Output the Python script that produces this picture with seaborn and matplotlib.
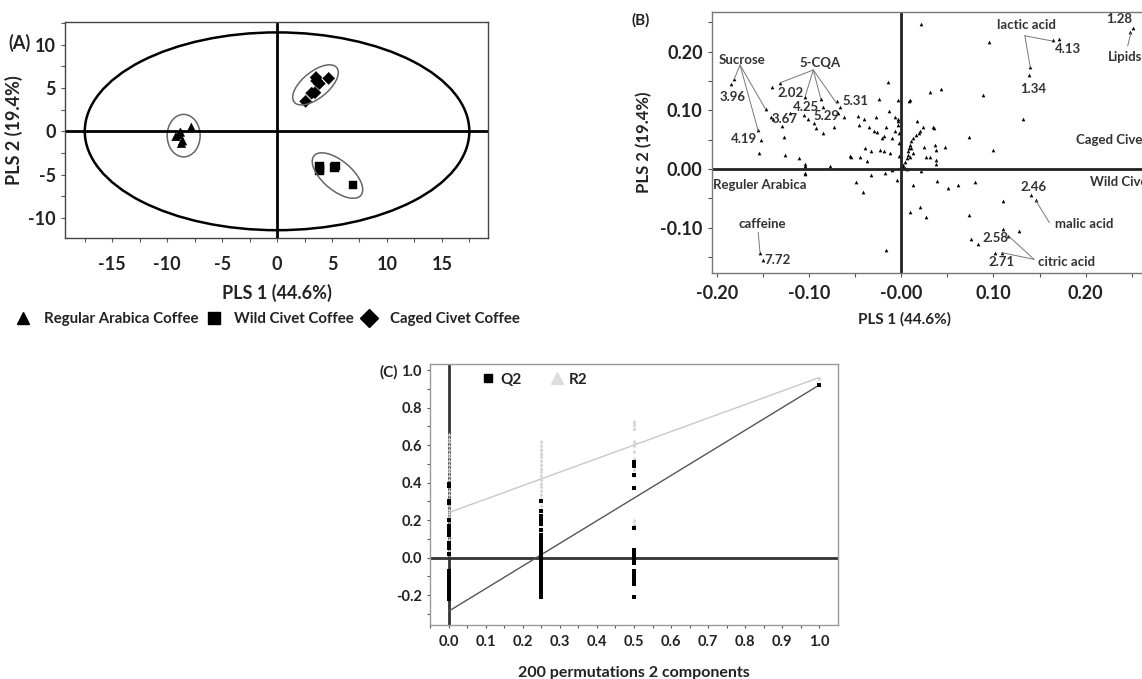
"""
PLS-DA score plot (A), loading plot (B) and permutation test (C)
for regular arabica vs. civet coffee, saved to out.png.
"""

import numpy as np
import pandas as pd
import seaborn as sns
import matplotlib.pyplot as plt
from matplotlib.patches import Ellipse
from matplotlib.ticker import MultipleLocator

output_file = "out.png"

# ---------------- (A) score plot ----------------
arabica_x = [-8.8, -7.8, -9.2, -8.7, -8.6, -8.9]
arabica_y = [-0.1, 0.45, -0.6, -1.4, -1.1, -0.4]
wild_x = [3.85, 3.85, 5.3, 5.25, 6.9, 3.9]
wild_y = [-4.0, -4.6, -4.0, -4.2, -6.2, -4.3]
caged_x = [2.6, 3.15, 3.45, 3.55, 3.85, 4.7, 3.6]
caged_y = [3.45, 4.4, 4.45, 6.2, 5.5, 6.1, 5.8]
group_names = ["Regular Arabica Coffee", "Wild Civet Coffee", "Caged Civet Coffee"]

# Hotelling T2 ellipse and group ellipses: centre x, centre y, width, height, angle
hotelling = (0.0, 0.0, 35.0, 22.8, 0)
group_ellipses = [(-8.5, -0.5, 3.0, 4.9, 0),
                  (3.5, 5.35, 5.6, 2.7, 50),
                  (5.5, -5.1, 6.3, 3.0, -51)]

# ---------------- (B) loading plot ----------------
load_x = [-0.184, -0.181, -0.147, -0.141, -0.139, -0.155, -0.152, -0.154, -0.140, -0.131,
          -0.129, -0.127, -0.126, -0.120, -0.111, -0.104, -0.105, -0.101, -0.104, -0.104,
          -0.104, -0.087, -0.085, -0.095, -0.092, -0.085, -0.077, -0.073, -0.070, -0.066,
          -0.068, -0.062, -0.055, -0.054, -0.047, -0.046, -0.040, -0.045, -0.039, -0.037,
          -0.035, -0.033, -0.030, -0.027, -0.026, -0.024, -0.023, -0.021, -0.019, -0.019,
          -0.017, -0.014, -0.013, -0.012, -0.010, -0.007, -0.007, -0.004, -0.003, -0.003,
          -0.003, -0.002, -0.002, -0.002, 0.000, -0.104, -0.049, -0.041, -0.033, -0.018,
          -0.010, -0.005, -0.017, -0.153, -0.150,
          0.021, 0.095, 0.165, 0.171, 0.140, 0.139, 0.251, 0.248, 0.089, 0.031,
          0.043, 0.008, 0.010, 0.132, 0.073, 0.100, 0.017, 0.024, 0.035, 0.036,
          0.020, 0.019, 0.016, 0.013, 0.011, 0.0096, 0.0088, 0.0077, 0.0070, 0.0059,
          0.0041, 0.0023, 0.011, 0.013, 0.0096, 0.025, 0.027, 0.031, 0.037, 0.038,
          0.038, 0.038, 0.047, 0.004, 0.006, 0.002,
          0.013, 0.021, 0.010, 0.020, 0.027, 0.039, 0.051, 0.062, 0.080, 0.074,
          0.110, 0.141, 0.146, 0.110, 0.128, 0.076, 0.083, 0.116, 0.102, 0.109]
load_y = [0.145, 0.154, 0.102, 0.088, 0.085, 0.066, 0.049, 0.027, 0.139, 0.147,
          0.073, 0.055, 0.023, 0.096, 0.018, 0.123, 0.092, 0.085, 0.009, 0.005,
          -0.007, 0.119, 0.106, 0.078, 0.069, 0.061, 0.005, 0.072, 0.115, 0.106,
          0.095, 0.089, 0.022, 0.020, 0.090, 0.075, 0.085, 0.021, 0.035, 0.014,
          0.072, 0.030, 0.065, 0.088, 0.063, 0.119, 0.032, 0.053, 0.056, 0.031,
          0.072, 0.148, 0.099, 0.028, 0.053, 0.065, 0.089, 0.117, 0.086, 0.081,
          0.075, 0.061, 0.044, 0.022, 0.004, -0.009, -0.023, -0.039, -0.011, -0.006,
          -0.002, -0.019, -0.138, -0.143, -0.155,
          0.247, 0.217, 0.219, 0.221, 0.174, 0.160, 0.241, 0.233, 0.126, 0.131,
          0.136, 0.115, 0.118, 0.086, 0.054, 0.032, 0.081, 0.072, 0.072, 0.070,
          0.065, 0.061, 0.058, 0.052, 0.047, 0.041, 0.035, 0.030, 0.024, 0.018,
          0.012, 0.007, 0.035, 0.027, 0.021, 0.038, 0.021, 0.021, 0.041, 0.032,
          0.015, 0.009, 0.038, 0.002, 0.000, 0.003,
          -0.027, -0.003, -0.074, -0.064, -0.081, -0.020, -0.033, -0.027, -0.023, -0.078,
          -0.054, -0.044, -0.053, -0.103, -0.106, -0.119, -0.128, -0.114, -0.143, -0.143]

# annotation text: label, x, y, horizontal alignment
load_labels = [("Sucrose", -0.173, 0.186, "center"), ("3.96", -0.183, 0.123, "center"),
               ("3.67", -0.126, 0.086, "center"), ("4.19", -0.170, 0.051, "center"),
               ("5-CQA", -0.088, 0.180, "center"), ("2.02", -0.120, 0.130, "center"),
               ("4.25", -0.103, 0.105, "center"), ("5.29", -0.081, 0.090, "center"),
               ("5.31", -0.050, 0.116, "center"), ("lactic acid", 0.136, 0.245, "center"),
               ("4.13", 0.181, 0.204, "center"), ("1.34", 0.143, 0.137, "center"),
               ("1.28", 0.236, 0.255, "center"), ("Lipids", 0.2245, 0.191, "left"),
               ("Caged Civet", 0.1895, 0.049, "left"), ("Wild Civet", 0.205, -0.022, "left"),
               ("Reguler Arabica", -0.204, -0.028, "left"), ("2.46", 0.143, -0.031, "center"),
               ("malic acid", 0.198, -0.093, "center"), ("2.58", 0.102, -0.118, "center"),
               ("citric acid", 0.179, -0.159, "center"), ("2.71", 0.109, -0.158, "center"),
               ("caffeine", -0.151, -0.093, "center"), ("7.72", -0.134, -0.155, "center")]

# leader lines: (from x, from y, to x, to y)
leaders = [(-0.1747, 0.1772, -0.181, 0.153), (-0.1747, 0.1772, -0.147, 0.102),
           (-0.1747, 0.1772, -0.155, 0.065),
           (-0.0953, 0.1687, -0.131, 0.147), (-0.0953, 0.1687, -0.104, 0.124),
           (-0.0953, 0.1687, -0.087, 0.119), (-0.0953, 0.1687, -0.070, 0.112),
           (0.134, 0.227, 0.164, 0.218), (0.134, 0.227, 0.140, 0.173),
           (0.2455, 0.2095, 0.249, 0.232), (0.1606, -0.0914, 0.146, -0.054),
           (0.144, -0.154, 0.116, -0.1136), (0.144, -0.154, 0.109, -0.1425),
           (-0.155, -0.108, -0.153, -0.1425)]

load_xticks = [-0.20, -0.10, 0.00, 0.10, 0.20]
load_xticklabels = ["-0.20", "-0.10", "-0.00", "0.10", "0.20"]
load_yticks = [-0.10, 0.00, 0.10, 0.20]
load_yticklabels = ["-0.10", "0.00", "0.10", "0.20"]

# ---------------- (C) permutation test ----------------
r2_perm_0 = [0.66, 0.64, 0.62, 0.60, 0.58, 0.56, 0.54, 0.52, 0.50, 0.48, 0.46, 0.44,
             0.42, 0.40, 0.38, 0.36, 0.34, 0.32, 0.30, 0.28, 0.26, 0.24, 0.22, 0.20,
             0.18, 0.16, 0.14, 0.12, 0.10, 0.08, 0.06, 0.04, 0.02]
r2_perm_25 = [0.62, 0.60, 0.58, 0.56, 0.54, 0.52, 0.50, 0.48, 0.46, 0.44, 0.42, 0.40,
              0.38, 0.36, 0.34, 0.32, 0.30, 0.28, 0.26, 0.24, 0.22, 0.20, 0.18, 0.16,
              0.14, 0.12, 0.10, 0.08, 0.06, 0.04, 0.02]
r2_perm_50 = [0.73, 0.71, 0.69, 0.62, 0.60, 0.57, 0.53, 0.50, 0.47, 0.44, 0.20, 0.18]
q2_perm_0 = [0.39, 0.38, 0.30, 0.29, 0.20, 0.17, 0.15, 0.14, 0.12, 0.08, 0.07, 0.05, 0.02,
             -0.07, -0.08, -0.09, -0.10, -0.11, -0.12, -0.13, -0.14, -0.15, -0.16, -0.17,
             -0.18, -0.19, -0.20, -0.21, -0.22]
q2_perm_25 = [0.30, 0.25, 0.22, 0.20, 0.18, 0.15, 0.12, 0.11, 0.10, 0.09, 0.08, 0.07,
              0.06, 0.05, 0.04, 0.03, 0.02, 0.01, 0.00, -0.02, -0.03, -0.04, -0.05,
              -0.06, -0.07, -0.08, -0.09, -0.10, -0.11, -0.12, -0.13, -0.14, -0.15,
              -0.16, -0.17, -0.18, -0.19, -0.20, -0.21]
q2_perm_50 = [0.51, 0.49, 0.44, 0.37, 0.16, 0.04, 0.02, 0.00, -0.02, -0.03, -0.07,
              -0.09, -0.10, -0.12, -0.14, -0.21]
r2_original = 0.96
q2_original = 0.92
r2_line = [0.24, 0.96]   # intercept at 0, value at 1
q2_line = [-0.285, 0.92]

# ---------------- style ----------------
sns.set_style("ticks")
plt.rcParams["font.family"] = ["Lato", "DejaVu Sans"]
plt.rcParams["font.weight"] = "bold"
plt.rcParams["axes.unicode_minus"] = False
plt.rcParams["text.color"] = "#222222"
plt.rcParams["axes.labelcolor"] = "#222222"
plt.rcParams["xtick.color"] = "#555555"
plt.rcParams["ytick.color"] = "#555555"
plt.rcParams["xtick.labelcolor"] = "#222222"
plt.rcParams["ytick.labelcolor"] = "#222222"

W, H = 1142, 679
fig = plt.figure(figsize=(W / 100, H / 100), dpi=100)


def px_axes(left, top, right, bottom):
    return fig.add_axes([left / W, 1 - bottom / H, (right - left) / W, (bottom - top) / H])


def style_spines(ax, color, lw=1.0):
    for s in ax.spines.values():
        s.set_color(color)
        s.set_linewidth(lw)


# ===== (A) =====
axA = px_axes(65, 22, 488, 238)
scores = pd.DataFrame({
    "x": arabica_x + wild_x + caged_x,
    "y": arabica_y + wild_y + caged_y,
    "group": [group_names[0]] * len(arabica_x) + [group_names[1]] * len(wild_x)
             + [group_names[2]] * len(caged_x),
})
markers = {group_names[0]: "^", group_names[1]: "s", group_names[2]: "D"}
sns.scatterplot(data=scores, x="x", y="y", style="group", markers=markers,
                color="black", s=38, edgecolor="black", linewidth=0.3, ax=axA, legend=False)
axA.add_patch(Ellipse(hotelling[:2], hotelling[2], hotelling[3], angle=hotelling[4],
                      fill=False, color="black", lw=1.8))
for cx, cy, w, h, ang in group_ellipses:
    axA.add_patch(Ellipse((cx, cy), w, h, angle=ang, fill=False, color="#666666", lw=1.1))
axA.axhline(0, color="black", lw=2)
axA.axvline(0, color="black", lw=2)
axA.set_xlim(-19.3, 19.2)
axA.set_ylim(-12.3, 12.6)
axA.set_xticks([-15, -10, -5, 0, 5, 10, 15])
axA.set_yticks([-10, -5, 0, 5, 10])
axA.xaxis.set_minor_locator(MultipleLocator(2.5))
axA.yaxis.set_minor_locator(MultipleLocator(2.5))
axA.tick_params(which="both", length=3, width=0.8, labelsize=13)
axA.tick_params(axis="x", pad=10)
axA.set_xlabel("PLS 1 (44.6%)", fontsize=13, fontweight="bold", labelpad=8)
axA.set_ylabel("PLS 2 (19.4%)", fontsize=13, fontweight="bold", labelpad=4)
style_spines(axA, "#444444", 1.0)
fig.text(8 / W, 1 - 43 / H, "(A)", fontsize=13, fontweight="bold", va="center")

handles = [plt.Line2D([], [], ls="", marker=markers[g], color="black",
                      markersize=9 if markers[g] == "D" else 8) for g in group_names]
fig.legend(handles, group_names, loc="center left", bbox_to_anchor=(5 / W, 1 - 319 / H),
           ncol=3, frameon=False, fontsize=10.8, handletextpad=0.7, columnspacing=0.3,
           borderpad=0, handlelength=1.4)

# ===== (B) =====
axB = px_axes(711.7, 11.7, 1150, 272.7)
sns.scatterplot(x=load_x, y=load_y, marker="^", color="black", s=7, linewidth=0,
                ax=axB, legend=False)
for x0, y0, x1, y1 in leaders:
    axB.annotate("", xy=(x1, y1), xytext=(x0, y0),
                 arrowprops=dict(arrowstyle="-", color="#777777", lw=0.7,
                                 shrinkA=0, shrinkB=0))
for txt, tx, ty, ha in load_labels:
    axB.text(tx, ty, txt, fontsize=9.5, fontweight="bold", ha=ha, va="center",
             color="#333333", clip_on=False)
axB.axhline(0, color="#222222", lw=2)
axB.axvline(0, color="#222222", lw=2)
axB.set_xlim(-0.2054, 0.2697)
axB.set_ylim(-0.1767, 0.268)
axB.set_xticks(load_xticks, labels=load_xticklabels)
axB.set_yticks(load_yticks, labels=load_yticklabels)
axB.xaxis.set_minor_locator(MultipleLocator(0.05))
axB.yaxis.set_minor_locator(MultipleLocator(0.05))
axB.tick_params(which="both", length=3, width=0.8, labelsize=13)
axB.tick_params(axis="x", pad=6)
axB.set_xlabel("PLS 1 (44.6%)", fontsize=11, fontweight="bold")
axB.xaxis.set_label_coords((905 - 711.7) / (1150 - 711.7), -0.15)
axB.set_ylabel("PLS 2 (19.4%)", fontsize=12, fontweight="bold", labelpad=6)
style_spines(axB, "#777777", 1.0)
fig.text(632 / W, 1 - 20 / H, "(B)", fontsize=11, fontweight="bold", va="center")

# ===== (C) =====
axC = px_axes(430, 364, 837.7, 625)
perm = pd.DataFrame({
    "x": [0.0] * len(r2_perm_0) + [0.25] * len(r2_perm_25) + [0.5] * len(r2_perm_50) + [1.0],
    "y": r2_perm_0 + r2_perm_25 + r2_perm_50 + [r2_original],
})
permq = pd.DataFrame({
    "x": [0.0] * len(q2_perm_0) + [0.25] * len(q2_perm_25) + [0.5] * len(q2_perm_50) + [1.0],
    "y": q2_perm_0 + q2_perm_25 + q2_perm_50 + [q2_original],
})
axC.axhline(0, color="#333333", lw=2, zorder=1)
axC.axvline(0, color="#333333", lw=2, zorder=1)
sns.lineplot(x=[0, 1], y=r2_line, color="#c8c8c8", lw=1.0, ax=axC)
sns.lineplot(x=[0, 1], y=q2_line, color="#555555", lw=1.0, ax=axC)
sns.scatterplot(data=perm, x="x", y="y", marker="^", color="#d0d0d0", s=8,
                linewidth=0, ax=axC, zorder=3)
sns.scatterplot(data=permq, x="x", y="y", marker="s", color="black", s=6,
                linewidth=0, ax=axC, zorder=4)
axC.set_xlim(-0.0505, 1.0497)
axC.set_ylim(-0.3586, 1.032)
axC.set_xticks(np.round(np.arange(0, 1.01, 0.1), 1))
axC.set_yticks([-0.2, 0.0, 0.2, 0.4, 0.6, 0.8, 1.0])
axC.xaxis.set_minor_locator(MultipleLocator(0.05))
axC.yaxis.set_minor_locator(MultipleLocator(0.1))
axC.xaxis.set_major_formatter(plt.FormatStrFormatter("%.1f"))
axC.yaxis.set_major_formatter(plt.FormatStrFormatter("%.1f"))
axC.tick_params(which="both", length=2.5, width=0.8, labelsize=10.5)
axC.tick_params(axis="x", pad=5)
axC.set_xlabel("200 permutations 2 components", fontsize=11.5, fontweight="bold",
               labelpad=12)
axC.set_ylabel("")
style_spines(axC, "#999999", 1.0)
fig.text(380 / W, 1 - 372 / H, "(C)", fontsize=11, fontweight="bold", va="center")
c_handles = [plt.Line2D([], [], ls="", marker="s", color="black", markersize=6),
             plt.Line2D([], [], ls="", marker="^", color="#dddddd", markersize=8)]
axC.legend(c_handles, ["Q2", "R2"], loc="upper left", bbox_to_anchor=(0.09, 1.02),
           ncol=2, frameon=False, fontsize=11, handletextpad=0.3, columnspacing=1.8,
           handlelength=1.0)

plt.savefig(output_file, dpi=100)
plt.close()
